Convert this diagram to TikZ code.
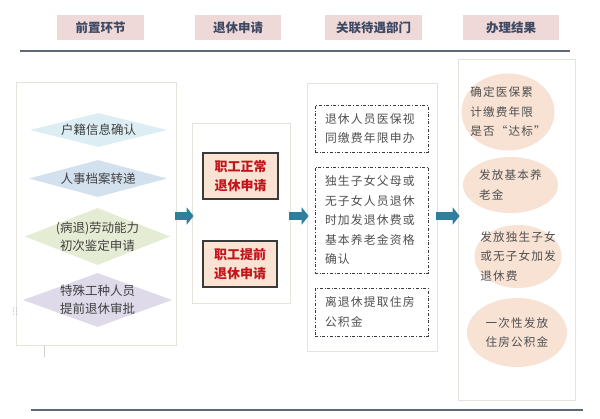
\documentclass[tikz,border=0pt]{standalone}
\usepackage{fontspec}
\setmainfont{Noto Sans CJK SC}
\newfontfamily\spaced[LetterSpace=10]{Noto Sans CJK SC}
\usetikzlibrary{shapes.geometric,arrows.meta}
\definecolor{headfill}{HTML}{EFD9D8}
\definecolor{headtext}{HTML}{3E4A63}
\definecolor{rule}{HTML}{5E6878}
\definecolor{panelline}{HTML}{E6E3DC}
\definecolor{hukoufill}{HTML}{DCEEF3}
\definecolor{archivefill}{HTML}{D3E0EE}
\definecolor{abilityfill}{HTML}{E5ECD4}
\definecolor{specialfill}{HTML}{DEDAEA}
\definecolor{darktext}{HTML}{404040}
\definecolor{applyline}{HTML}{3A3A3A}
\definecolor{applyfill}{HTML}{FBE3D3}
\definecolor{applytext}{HTML}{C0161B}
\definecolor{greytext}{HTML}{505050}
\definecolor{resultfill}{HTML}{F7E2D4}
\definecolor{flowcolor}{HTML}{2E7E9C}
\begin{document}
\begin{tikzpicture}[x=1pt, y=-1pt,
    head/.style={fill=headfill, text=headtext, font=\bfseries\fontsize{12.5}{15}\selectfont, minimum height=25pt, inner sep=0},
    panel/.style={draw=panelline, line width=0.8pt, fill=white, inner sep=0},
    stage/.style={diamond, inner sep=0},
    stagetext/.style={align=center, text=darktext, font=\fontsize{12.5}{18}\selectfont},
    apply/.style={draw=applyline, line width=1.5pt, fill=applyfill, text=applytext, font=\bfseries\fontsize{13}{19}\selectfont, align=center, minimum width=74pt, minimum height=46pt, inner sep=0},
    dept/.style={draw=applyline, dash dot, line width=1pt, minimum width=113pt, text width=93pt, align=left, text=greytext, font=\spaced\fontsize{11.8}{19.5}\selectfont},
    result/.style={ellipse, fill=resultfill, inner sep=0},
    resulttext/.style={align=left, text=greytext, font=\spaced\fontsize{11.6}{19.5}\selectfont},
    flow/.style={line width=8.5pt, draw=flowcolor, -{Triangle[length=7pt,width=17pt]}, shorten <=-1pt, shorten >=-2pt}]
  \useasboundingbox (0,0) rectangle (600,418);

  % column heads
  \node [head, minimum width=87pt] (hprep) at (100.5,27.5) {前置环节};
  \node [head, minimum width=86pt] (hretire) at (238,27.5) {退休申请};
  \node [head, minimum width=97pt] (hrelated) at (373.5,27.5) {关联待遇部门};
  \node [head, minimum width=96pt] (houtcome) at (511,27.5) {办理结果};
  \draw [rule, line width=1.5pt] (20,51) -- (570,51);
  \draw [rule, line width=1.5pt] (31,410) -- (583,410);

  % panels
  \node [panel, minimum width=160pt, minimum height=263pt] (prep) at (96,213.5) {};
  \node [panel, minimum width=98pt, minimum height=180pt] (retire) at (241,213) {};
  \node [panel, minimum width=130pt, minimum height=268pt] (related) at (372,217) {};
  \node [panel, minimum width=117pt, minimum height=341pt] (outcome) at (516.5,229.5) {};
  \draw [panelline!80!gray, line width=0.8pt] (44,345) -- (44,357);
  \foreach \i in {0,1}
    \foreach \j in {0,1,2}
      \fill [gray!60] (13.5+3*\i,308+3*\j) circle (0.7);

  % pre-steps
  \node [stage, fill=hukoufill, minimum width=137pt, minimum height=34pt] (hukou) at (98.5,130) {};
  \node [stagetext] (hukoutext) at (hukou) {户籍信息确认};
  \node [stage, fill=archivefill, minimum width=138pt, minimum height=37pt] (archive) at (98,178.5) {};
  \node [stagetext] (archivetext) at (archive) {人事档案转递};
  \node [stage, fill=abilityfill, minimum width=145pt, minimum height=57pt] (ability) at (97.5,236.5) {};
  \node [stagetext] (abilitytext) at (ability) {(病退)劳动能力\\初次鉴定申请};
  \node [stage, fill=specialfill, minimum width=149pt, minimum height=54pt] (special) at (97.5,300) {};
  \node [stagetext] (specialtext) at (special) {特殊工种人员\\提前退休审批};

  % retirement applications
  \node [apply, minimum width=75pt] (normal) at (240.5,176) {职工正常\\退休申请};
  \node [apply] (early) at (240,264) {职工提前\\退休申请};

  % related departments
  \node [dept, minimum height=47pt] (medical) at (371.5,128.5) {退休人员医保视\\同缴费年限申办};
  \node [dept, minimum height=106pt] (onlychild) at (371.5,220) {独生子女父母或\\无子女人员退休\\时加发退休费或\\基本养老金资格\\确认};
  \node [dept, minimum height=48pt] (fund) at (371.5,312) {离退休提取住房\\公积金};

  % results
  \node [result, minimum width=93pt, minimum height=77pt] (check) at (508,112) {};
  \node [resulttext] (checktext) at (check) {确定医保累\\计缴费年限\\是否“达标”};
  \node [result, minimum width=95pt, minimum height=56pt] (pension) at (510.5,185) {};
  \node [resulttext] (pensiontext) at (pension) {发放基本养\\老金\phantom{基本养}};
  \node [result, minimum width=87pt, minimum height=63pt] (bonus) at (518,256.5) {};
  \node [resulttext] (bonustext) at (bonus) {发放独生子女\\或无子女加发\\退休费};
  \node [result, minimum width=100pt, minimum height=69pt] (lump) at (517,332.5) {};
  \node [resulttext] (lumptext) at (lump) {一次性发放\\住房公积金};

  % flow arrows
  \coordinate (row) at (0,216);
  \draw [flow] (prep.east |- row) -- (retire.west |- row);
  \draw [flow] (retire.east |- row) -- (related.west |- row);
  \draw [flow] (related.east |- row) -- (outcome.west |- row);
\end{tikzpicture}
\end{document}
